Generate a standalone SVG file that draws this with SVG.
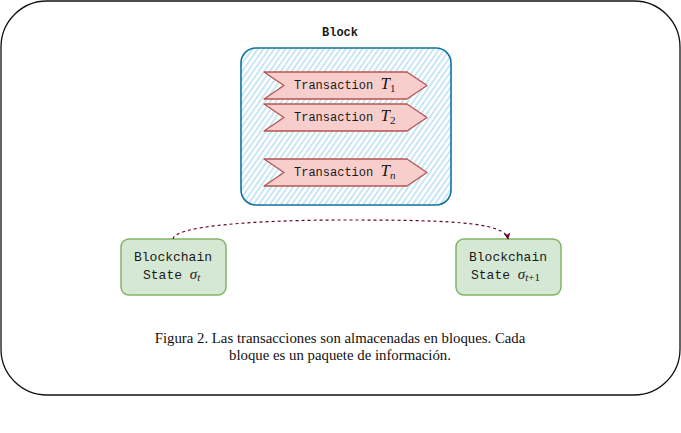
<svg xmlns="http://www.w3.org/2000/svg" width="681" height="433" viewBox="0 0 681 433">
<defs>
<pattern id="hatch" patternUnits="userSpaceOnUse" width="4.5" height="4.5" patternTransform="rotate(35)">
<rect width="4.5" height="4.5" fill="#ffffff"/>
<line x1="0.8" y1="0" x2="0.8" y2="4.5" stroke="#b3def4" stroke-width="1.4"/>
</pattern>
<marker id="arr" viewBox="0 0 10 10" refX="9" refY="5" markerWidth="7" markerHeight="7" orient="auto" markerUnits="userSpaceOnUse">
<path d="M0,0 L10,5 L0,10 L3,5 Z" fill="#660033"/>
</marker>
</defs>
<style>
.mono{font-family:"Liberation Mono","DejaVu Sans Mono",monospace;fill:#1a1a1a}
.math{font-family:"Liberation Serif","DejaVu Serif",serif;font-style:italic}
.big{font-size:17px}
.sub{font-size:11px}
.sig{font-size:15px}
.ssub{font-size:11px}
.up{font-style:normal}
.tx{fill:#f8cecc;stroke:#b85450;stroke-width:1.3;stroke-linejoin:round}
.st{fill:#d5e8d4;stroke:#82b366;stroke-width:1.5}
.cap{font-family:"Liberation Serif","Times New Roman",serif;font-size:14.8px;fill:#111}
</style>
<rect id="frame" x="1" y="1" width="679" height="394" rx="46" ry="46" fill="#ffffff" stroke="#111" stroke-width="1.3"/>
<g id="block">
<text class="mono" x="340" y="36" font-size="12" font-weight="bold" text-anchor="middle">Block</text>
<rect x="241" y="48" width="210" height="157" rx="15" ry="15" fill="url(#hatch)" stroke="#10739e" stroke-width="1.6"/>
</g>
<g id="tx1">
<polygon class="tx" points="264,72 407,72 427,85.5 407,99 264,99 284,85.5"/>
<text class="mono" x="294" y="89" font-size="12">Transaction <tspan class="math big">T</tspan><tspan class="math up sub" dy="3">1</tspan></text>
</g>
<g id="tx2">
<polygon class="tx" points="264,104 407,104 427,117.5 407,131 264,131 284,117.5"/>
<text class="mono" x="294" y="121" font-size="12">Transaction <tspan class="math big">T</tspan><tspan class="math up sub" dy="3">2</tspan></text>
</g>
<g id="txn">
<polygon class="tx" points="264,159 407,159 427,172.5 407,186 264,186 284,172.5"/>
<text class="mono" x="294" y="176" font-size="12">Transaction <tspan class="math big">T</tspan><tspan class="math sub" dy="3">n</tspan></text>
</g>
<g id="state-t">
<rect class="st" x="121" y="239" width="105" height="56" rx="8" ry="8"/>
<text class="mono" x="173" y="261" font-size="13" text-anchor="middle">Blockchain</text>
<text class="mono" x="143" y="279" font-size="13">State <tspan class="math sig">σ</tspan><tspan class="math ssub" dy="2">t</tspan></text>
</g>
<g id="state-t1">
<rect class="st" x="456" y="239" width="105" height="56" rx="8" ry="8"/>
<text class="mono" x="508" y="261" font-size="13" text-anchor="middle">Blockchain</text>
<text class="mono" x="471" y="279" font-size="13">State <tspan class="math sig">σ</tspan><tspan class="math ssub" dy="2">t</tspan><tspan class="math up ssub">+1</tspan></text>
</g>
<g id="connectors">
<path d="M173,239 C175,223 290,220 340,220 C440,220 505,221 508,239" fill="none" stroke="#660033" stroke-width="1.2" stroke-dasharray="3 3" marker-end="url(#arr)"/>
</g>
<g id="caption">
<text class="cap" x="340" y="343" text-anchor="middle">Figura 2. Las transacciones son almacenadas en bloques. Cada</text>
<text class="cap" x="340" y="360" text-anchor="middle">bloque es un paquete de información.</text>
</g>
</svg>
